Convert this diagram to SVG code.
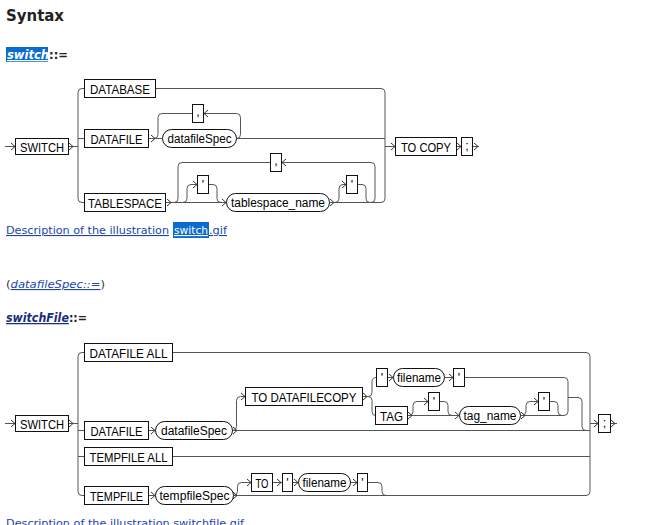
<svg xmlns="http://www.w3.org/2000/svg" xmlns:xlink="http://www.w3.org/1999/xlink" width="666" height="525" viewBox="0 0 666 525">
<style>
.bg{fill:#fff}
.box{fill:#fff;stroke:#111;stroke-width:1}
.ln{fill:none;stroke:#555;stroke-width:1}
.ch{fill:none;stroke:#333;stroke-width:1}
.kw{font-family:"Liberation Sans",Arial,sans-serif;font-size:13.5px;fill:#000;text-anchor:middle}
.pn{font-family:"Liberation Sans",Arial,sans-serif;font-size:12.5px;fill:#000;text-anchor:middle}
.web{font-family:"DejaVu Sans",Verdana,sans-serif;font-size:11px}
.head{font-family:"DejaVu Sans",Verdana,sans-serif;font-weight:bold;font-size:12.5px}
.link{fill:#1c45a8;text-decoration:underline}
.hl{fill:#0a6ccf}
</style>
<defs>
<path id="cr" d="M-4,-3.5 L0,0 L-4,3.5" class="ch"/>
<path id="cl" d="M4,-3.5 L0,0 L4,3.5" class="ch"/>
</defs>
<rect class="bg" x="0" y="0" width="666" height="525"/>

<g id="page-text">
<text x="6" y="21" font-family="'DejaVu Sans',Verdana,sans-serif" font-weight="bold" font-size="16" fill="#222" textLength="58" lengthAdjust="spacingAndGlyphs">Syntax</text>
<rect class="hl" x="6" y="47" width="42" height="15"/>
<text class="head" x="7" y="59" textLength="61" lengthAdjust="spacingAndGlyphs"><tspan fill="#fff" font-style="italic" text-decoration="underline">switch</tspan><tspan fill="#222">::=</tspan></text>

<rect class="hl" x="173" y="222" width="36" height="16"/>
<text class="web link" x="6" y="234" textLength="163" lengthAdjust="spacingAndGlyphs">Description of the illustration</text>
<text class="web" x="174" y="234" fill="#fff" text-decoration="underline" textLength="34" lengthAdjust="spacingAndGlyphs">switch</text>
<text class="web link" x="209" y="234" textLength="18" lengthAdjust="spacingAndGlyphs">.gif</text>

<text class="web" x="6" y="288" textLength="99" lengthAdjust="spacingAndGlyphs"><tspan fill="#333">(</tspan><tspan class="link" font-style="italic">datafileSpec::=</tspan><tspan fill="#333">)</tspan></text>

<text class="head" x="6" y="322" textLength="81" lengthAdjust="spacingAndGlyphs"><tspan fill="#1a2d7a" font-style="italic" text-decoration="underline">switchFile</tspan><tspan fill="#222">::=</tspan></text>

<text class="web link" x="6" y="527" textLength="238" lengthAdjust="spacingAndGlyphs">Description of the illustration switchfile.gif</text>
</g>

<g id="connectors">
<path class="ln" d="M5 146.5 H15"/>
<path class="ln" d="M68.5 146.5 H78"/>
<path class="ln" d="M84.5 88.5 H82 Q78 88.5 78 92.5 V198.5 Q78 202.5 82 202.5 H84.5"/>
<path class="ln" d="M78 138.5 H84.5"/>
<path class="ln" d="M148.5 138.5 H162.5"/>
<path class="ln" d="M154 138.5 Q158 138.5 158 134.5 V117.5 Q158 113.5 162 113.5 H192.5"/>
<path class="ln" d="M236.5 138.5 Q240.5 138.5 240.5 134.5 V117.5 Q240.5 113.5 236.5 113.5 H203.5"/>
<path class="ln" d="M236.5 138.5 H385"/>
<path class="ln" d="M155.5 88.5 H381 Q385 88.5 385 92.5 V198.5 Q385 202.5 381 202.5 H370"/>
<path class="ln" d="M385 146.5 H395.5"/>
<path class="ln" d="M456.5 146.5 H461.5"/>
<path class="ln" d="M472.5 146.5 H479"/>
<path class="ln" d="M165.5 202.5 H226.5"/>
<path class="ln" d="M174 202.5 Q178 202.5 178 198.5 V166.5 Q178 162.5 182 162.5 H270.5"/>
<path class="ln" d="M329.5 202.5 H371 Q375 202.5 375 198.5 V166.5 Q375 162.5 371 162.5 H281.5"/>
<path class="ln" d="M183 202.5 Q187 202.5 187 198.5 V188.5 Q187 184.5 191 184.5 H197.5"/>
<path class="ln" d="M208.5 184.5 H213 Q217 184.5 217 188.5 V198.5 Q217 202.5 221 202.5"/>
<path class="ln" d="M335 202.5 Q339 202.5 339 198.5 V188.5 Q339 184.5 343 184.5 H346.5"/>
<path class="ln" d="M357.5 184.5 H362 Q366 184.5 366 188.5 V198.5 Q366 202.5 370 202.5"/>

<path class="ln" d="M5 423.5 H15"/>
<path class="ln" d="M68.5 423.5 H78"/>
<path class="ln" d="M84.5 352.5 H82 Q78 352.5 78 356.5 V491.5 Q78 495.5 82 495.5 H84.5"/>
<path class="ln" d="M78 430.5 H84.5"/>
<path class="ln" d="M78 456.5 H84.5"/>
<path class="ln" d="M172.5 352.5 H586 Q590 352.5 590 356.5 V491.5 Q590 495.5 586 495.5 H233.5"/>
<path class="ln" d="M232.5 430.5 H590"/>
<path class="ln" d="M172.5 456.5 H590"/>
<path class="ln" d="M148.5 430.5 H155.5"/>
<path class="ln" d="M148.5 495.5 H155.5"/>
<path class="ln" d="M232.5 430.5 Q236.5 430.5 236.5 426.5 V400.5 Q236.5 396.5 240.5 396.5 H245.5"/>
<path class="ln" d="M362.5 396.5 H368 Q372 396.5 372 392.5 V381.5 Q372 377.5 376.5 377.5"/>
<path class="ln" d="M368 396.5 Q372 396.5 372 400.5 V411.5 Q372 415.5 375.5 415.5"/>
<path class="ln" d="M387.5 377.5 H393.5"/>
<path class="ln" d="M444.5 377.5 H453.5"/>
<path class="ln" d="M464.5 377.5 H564 Q568 377.5 568 381.5 V411.5 Q568 415.5 564 415.5 H520.5"/>
<path class="ln" d="M407.5 415.5 H459.5"/>
<path class="ln" d="M409 415.5 Q413 415.5 413 411.5 V405.5 Q413 401.5 417 401.5 H428.5"/>
<path class="ln" d="M439.5 401.5 H444 Q448 401.5 448 405.5 V411.5 Q448 415.5 452 415.5"/>
<path class="ln" d="M522 415.5 Q526 415.5 526 411.5 V405.5 Q526 401.5 530 401.5 H538.5"/>
<path class="ln" d="M549.5 401.5 H554 Q558 401.5 558 405.5 V411.5 Q558 415.5 562 415.5"/>
<path class="ln" d="M568 397.5 H578 Q582 397.5 582 401.5 V426.5 Q582 430.5 586 430.5"/>
<path class="ln" d="M590 423.5 H598.5"/>
<path class="ln" d="M610.5 423.5 H617"/>
<path class="ln" d="M233.5 495.5 Q237.5 495.5 237.5 491.5 V486.5 Q237.5 482.5 241.5 482.5 H251.5"/>
<path class="ln" d="M272.5 482.5 H282.5"/>
<path class="ln" d="M292.5 482.5 H298.5"/>
<path class="ln" d="M350.5 482.5 H357.5"/>
<path class="ln" d="M367.5 482.5 H378 Q382 482.5 382 486.5 V491.5 Q382 495.5 386 495.5"/>

<use xlink:href="#cr" x="15" y="146.5"/>
<use xlink:href="#cr" x="73" y="146.5"/>
<use xlink:href="#cr" x="155" y="138.5"/>
<use xlink:href="#cl" x="204" y="113.5"/>
<use xlink:href="#cr" x="395" y="146.5"/>
<use xlink:href="#cr" x="461" y="146.5"/>
<use xlink:href="#cr" x="478" y="146.5"/>
<use xlink:href="#cr" x="171" y="202.5"/>
<use xlink:href="#cr" x="197" y="184.5"/>
<use xlink:href="#cr" x="226" y="202.5"/>
<use xlink:href="#cl" x="282" y="162.5"/>
<use xlink:href="#cr" x="334" y="202.5"/>
<use xlink:href="#cr" x="346" y="184.5"/>

<use xlink:href="#cr" x="15" y="423.5"/>
<use xlink:href="#cr" x="73" y="423.5"/>
<use xlink:href="#cr" x="155" y="430.5"/>
<use xlink:href="#cr" x="237" y="430.5"/>
<use xlink:href="#cr" x="245" y="396.5"/>
<use xlink:href="#cr" x="367" y="396.5"/>
<use xlink:href="#cr" x="393" y="377.5"/>
<use xlink:href="#cr" x="453" y="377.5"/>
<use xlink:href="#cr" x="412" y="415.5"/>
<use xlink:href="#cr" x="428" y="401.5"/>
<use xlink:href="#cr" x="459" y="415.5"/>
<use xlink:href="#cr" x="525" y="415.5"/>
<use xlink:href="#cr" x="538" y="401.5"/>
<use xlink:href="#cr" x="598" y="423.5"/>
<use xlink:href="#cr" x="615" y="423.5"/>
<use xlink:href="#cr" x="155" y="495.5"/>
<use xlink:href="#cr" x="237" y="495.5"/>
<use xlink:href="#cr" x="251" y="482.5"/>
<use xlink:href="#cr" x="281" y="482.5"/>
<use xlink:href="#cr" x="298" y="482.5"/>
<use xlink:href="#cr" x="357" y="482.5"/>
</g>

<g id="t-switch"><rect class="box" x="15.5" y="138.5" width="53" height="16"/><text class="kw" x="42" y="151.5" textLength="44" lengthAdjust="spacingAndGlyphs">SWITCH</text></g>
<g id="t-database"><rect class="box" x="84.5" y="79.5" width="71" height="18"/><text class="kw" x="120" y="93.5" textLength="60" lengthAdjust="spacingAndGlyphs">DATABASE</text></g>
<g id="t-datafile"><rect class="box" x="84.5" y="129.5" width="64" height="18"/><text class="kw" x="116.5" y="143.5" textLength="52" lengthAdjust="spacingAndGlyphs">DATAFILE</text></g>
<g id="t-datafilespec"><rect class="box" x="162.5" y="129.5" width="74" height="18" rx="9"/><text class="pn" x="199.5" y="143" textLength="64" lengthAdjust="spacingAndGlyphs">datafileSpec</text></g>
<g id="t-comma1"><rect class="box" x="192.5" y="104.5" width="11" height="18"/><text class="pn" x="198" y="116">,</text></g>
<g id="t-tablespace"><rect class="box" x="84.5" y="193.5" width="81" height="18"/><text class="kw" x="125" y="207.5" textLength="74" lengthAdjust="spacingAndGlyphs">TABLESPACE</text></g>
<g id="t-quote1"><rect class="box" x="197.5" y="175.5" width="11" height="18"/><text class="pn" x="203" y="189">'</text></g>
<g id="t-tablespacename"><rect class="box" x="226.5" y="193.5" width="103" height="18" rx="9"/><text class="pn" x="278" y="207" textLength="94" lengthAdjust="spacingAndGlyphs">tablespace_name</text></g>
<g id="t-quote2"><rect class="box" x="346.5" y="175.5" width="11" height="18"/><text class="pn" x="352" y="189">'</text></g>
<g id="t-comma2"><rect class="box" x="270.5" y="153.5" width="11" height="18"/><text class="pn" x="276" y="165">,</text></g>
<g id="t-tocopy"><rect class="box" x="395.5" y="137.5" width="61" height="18"/><text class="kw" x="426" y="151.5" textLength="50" lengthAdjust="spacingAndGlyphs">TO COPY</text></g>
<g id="t-semicolon"><rect class="box" x="461.5" y="137.5" width="11" height="18"/><text class="pn" x="467" y="150">;</text></g>

<g id="b-switch"><rect class="box" x="15.5" y="415.5" width="53" height="16"/><text class="kw" x="42" y="428.5" textLength="44" lengthAdjust="spacingAndGlyphs">SWITCH</text></g>
<g id="b-datafileall"><rect class="box" x="84.5" y="343.5" width="88" height="18"/><text class="kw" x="128.5" y="357.5" textLength="78" lengthAdjust="spacingAndGlyphs">DATAFILE ALL</text></g>
<g id="b-datafile"><rect class="box" x="84.5" y="421.5" width="64" height="18"/><text class="kw" x="116.5" y="435.5" textLength="52" lengthAdjust="spacingAndGlyphs">DATAFILE</text></g>
<g id="b-datafilespec"><rect class="box" x="155.5" y="421.5" width="77" height="18" rx="9"/><text class="pn" x="194" y="435" textLength="66" lengthAdjust="spacingAndGlyphs">datafileSpec</text></g>
<g id="b-tempfileall"><rect class="box" x="84.5" y="447.5" width="88" height="18"/><text class="kw" x="128.5" y="461.5" textLength="78" lengthAdjust="spacingAndGlyphs">TEMPFILE ALL</text></g>
<g id="b-tempfile"><rect class="box" x="84.5" y="486.5" width="64" height="18"/><text class="kw" x="116.5" y="500.5" textLength="53" lengthAdjust="spacingAndGlyphs">TEMPFILE</text></g>
<g id="b-tempfilespec"><rect class="box" x="155.5" y="486.5" width="78" height="18" rx="9"/><text class="pn" x="194.5" y="500" textLength="70" lengthAdjust="spacingAndGlyphs">tempfileSpec</text></g>
<g id="b-todatafilecopy"><rect class="box" x="245.5" y="387.5" width="117" height="18"/><text class="kw" x="304" y="401.5" textLength="105" lengthAdjust="spacingAndGlyphs">TO DATAFILECOPY</text></g>
<g id="b-quote1"><rect class="box" x="376.5" y="368.5" width="11" height="18"/><text class="pn" x="382" y="382">'</text></g>
<g id="b-filename1"><rect class="box" x="393.5" y="368.5" width="51" height="18" rx="9"/><text class="pn" x="419" y="382" textLength="44" lengthAdjust="spacingAndGlyphs">filename</text></g>
<g id="b-quote2"><rect class="box" x="453.5" y="368.5" width="11" height="18"/><text class="pn" x="459" y="382">'</text></g>
<g id="b-tag"><rect class="box" x="375.5" y="406.5" width="32" height="18"/><text class="kw" x="391.5" y="420.5" textLength="23" lengthAdjust="spacingAndGlyphs">TAG</text></g>
<g id="b-quote3"><rect class="box" x="428.5" y="392.5" width="11" height="18"/><text class="pn" x="434" y="406">'</text></g>
<g id="b-tagname"><rect class="box" x="459.5" y="406.5" width="61" height="18" rx="9"/><text class="pn" x="490" y="420" textLength="53" lengthAdjust="spacingAndGlyphs">tag_name</text></g>
<g id="b-quote4"><rect class="box" x="538.5" y="392.5" width="11" height="18"/><text class="pn" x="544" y="406">'</text></g>
<g id="b-semicolon"><rect class="box" x="598.5" y="414.5" width="12" height="18"/><text class="pn" x="604.5" y="427">;</text></g>
<g id="b-to"><rect class="box" x="251.5" y="473.5" width="21" height="18"/><text class="kw" x="262" y="487.5" textLength="13" lengthAdjust="spacingAndGlyphs">TO</text></g>
<g id="b-quote5"><rect class="box" x="282.5" y="473.5" width="10" height="18"/><text class="pn" x="287.5" y="487">'</text></g>
<g id="b-filename2"><rect class="box" x="298.5" y="473.5" width="52" height="18" rx="9"/><text class="pn" x="324.5" y="487" textLength="44" lengthAdjust="spacingAndGlyphs">filename</text></g>
<g id="b-quote6"><rect class="box" x="357.5" y="473.5" width="10" height="18"/><text class="pn" x="362.5" y="487">'</text></g>
</svg>
